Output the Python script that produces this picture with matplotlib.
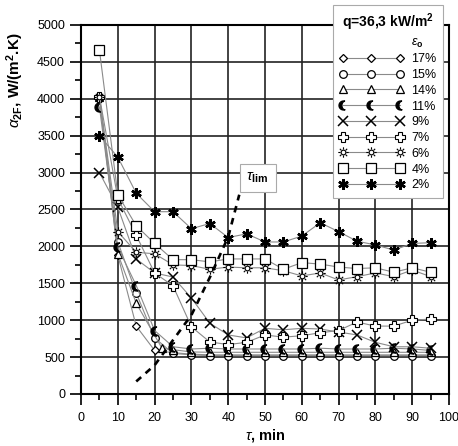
import numpy as np
import matplotlib
matplotlib.use('Agg')
import matplotlib.pyplot as plt
from matplotlib.path import Path

plt.rcParams['font.family'] = ['Liberation Sans', 'DejaVu Sans']
plt.rcParams['mathtext.fontset'] = 'custom'
plt.rcParams['mathtext.rm'] = 'Liberation Sans'
plt.rcParams['mathtext.bf'] = 'Liberation Sans:bold'
plt.rcParams['mathtext.it'] = 'Liberation Sans:italic'

# time, min
tau = [5, 10, 15, 20, 25, 30, 35, 40, 45, 50, 55, 60, 65, 70, 75, 80, 85, 90, 95]
tau_14 = [5, 10, 15, 22, 25, 30, 35, 40, 45, 50, 55, 60, 65, 70, 75, 80, 85, 90, 95]

# alpha_2F, W/(m2.K) for each initial void fraction
a_17 = [4030, 1880, 920, 590, 560, 540, 530, 530, 530, 530, 530, 530, 530, 530, 530, 530, 530, 530, 530]
a_15 = [4010, 2060, 1370, 760, 550, 530, 520, 520, 520, 520, 520, 520, 520, 520, 520, 520, 520, 520, 520]
a_14 = [4030, 1900, 1230, 620, 600, 570, 565, 565, 565, 565, 565, 565, 565, 565, 565, 565, 565, 565, 565]
a_11 = [3890, 1990, 1470, 860, 640, 610, 620, 610, 610, 610, 610, 610, 620, 610, 610, 610, 620, 610, 590]
a_9 = [3000, 2530, 1830, 1640, 1585, 1300, 960, 800, 760, 890, 870, 890, 880, 840, 800, 700, 640, 640, 620]
a_7 = [4030, 2650, 2150, 1640, 1465, 910, 705, 670, 700, 800, 770, 790, 830, 860, 975, 920, 920, 1000, 1015]
a_6 = [4030, 2200, 1920, 1900, 1750, 1740, 1690, 1720, 1710, 1710, 1670, 1600, 1640, 1545, 1590, 1640, 1590, 1680, 1590]
a_4 = [4660, 2700, 2280, 2040, 1820, 1820, 1790, 1830, 1830, 1830, 1690, 1780, 1760, 1720, 1700, 1710, 1650, 1710, 1650]
a_2 = [3500, 3210, 2720, 2470, 2470, 2240, 2310, 2120, 2170, 2060, 2060, 2140, 2320, 2200, 2070, 2020, 1950, 2040, 2050]

labels = ['17%', '15%', '14%', '11%', '9%', '7%', '6%', '4%', '2%']

# tau_lim boundary
lim_x = [15, 20, 25, 30, 35, 40, 43]
lim_y = [170, 390, 730, 1070, 1580, 2130, 2700]

# crescent marker
t = np.linspace(np.radians(70), np.radians(290), 30)
s = np.linspace(-np.pi / 2, np.pi / 2, 30)
outer = np.column_stack([np.cos(t), np.sin(t)])
inner = np.column_stack([0.342 - 0.692 * np.cos(s), 0.94 * np.sin(s)])
moon = Path(np.vstack([outer, inner]))

# sun marker: circle with rays
circ = Path.circle((0, 0), 0.45)
ray_verts, ray_codes = [], []
for ang in np.arange(0, 360, 45):
    a = np.radians(ang)
    ray_verts += [(0.6 * np.cos(a), 0.6 * np.sin(a)), (np.cos(a), np.sin(a))]
    ray_codes += [Path.MOVETO, Path.LINETO]
sun = Path.make_compound_path(circ, Path(ray_verts, ray_codes))

styles = [
    dict(marker='D', ms=4, mfc='white'),
    dict(marker='o', ms=5.5, mfc='white'),
    dict(marker='^', ms=6, mfc='white'),
    dict(marker=moon, ms=6.5, mfc='black'),
    dict(marker='x', ms=6.5, mew=1.1),
    dict(marker='P', ms=7, mfc='white', mew=0.8),
    dict(marker=sun, ms=7.5, mfc='white', mew=0.8),
    dict(marker='s', ms=6.5, mfc='white'),
    dict(marker=(6, 2, 0), ms=7.5, mew=1.8),
]

fig = plt.figure(figsize=(4.58, 4.46), dpi=100)
ax = fig.add_axes([0.1769, 0.1166, 0.8035, 0.8274])

series = [a_17, a_15, a_14, a_11, a_9, a_7, a_6, a_4, a_2]
xs = [tau, tau, tau_14, tau, tau, tau, tau, tau, tau]
handles = []
eps, = ax.plot([], [], color='none', label=r'$\varepsilon_{\mathbf{o}}$')
handles.append(eps)
for x, y, lab, st in zip(xs, series, labels, styles):
    st.setdefault('mew', 0.9)
    h, = ax.plot(x, y, color='#8a8a8a', lw=0.8, mec='black', label=lab, zorder=3, **st)
    handles.append(h)

ax.plot(lim_x, lim_y, color='black', lw=1.9, dashes=(2.5, 2.2), zorder=4)
ax.text(48, 2930, r'$\tau_{\mathbf{lim}}$', fontsize=11, ha='center', va='center',
        bbox=dict(boxstyle='square,pad=0.45', fc='white', ec='#aaaaaa', lw=0.8), zorder=5)

ax.set_xlim(0, 100)
ax.set_ylim(0, 5000)
ax.set_xticks(range(0, 101, 10))
ax.set_xticks(range(0, 101, 5), minor=True)
ax.set_yticks(range(0, 5001, 500))
ax.set_yticks(range(0, 5001, 250), minor=True)
ax.grid(True, which='major', color='#222222', lw=1.2)
for sp in ax.spines.values():
    sp.set_linewidth(1.5)
ax.tick_params(which='major', length=8, width=1.4, labelsize=9, color='#222222')
ax.tick_params(which='minor', length=4.5, width=1.4, color='#222222')
ax.tick_params(axis='x', which='major', pad=5)

ax.set_xlabel(r'$\tau$, min', fontsize=10.5, fontweight='bold', labelpad=2)
ax.set_ylabel(r'$\alpha_{\mathbf{2F}}$, W/(m$^{\mathbf{2}}$.K)', fontsize=11, fontweight='bold')
ax.yaxis.set_label_coords(-0.15, 0.85)

leg = fig.legend(handles=handles, loc='upper right', bbox_to_anchor=(0.967, 0.989),
                 numpoints=3, handlelength=5.2, fontsize=9, frameon=True, fancybox=False,
                 framealpha=1, edgecolor='#aaaaaa', borderaxespad=0, labelspacing=0.3,
                 handletextpad=0.6, borderpad=0.5,
                 title=r'q=36,3 kW/m$^{\mathbf{2}}$', title_fontproperties={'weight': 'bold', 'size': 10})
leg.get_frame().set_linewidth(0.8)

fig.savefig('out.png', dpi=100)
